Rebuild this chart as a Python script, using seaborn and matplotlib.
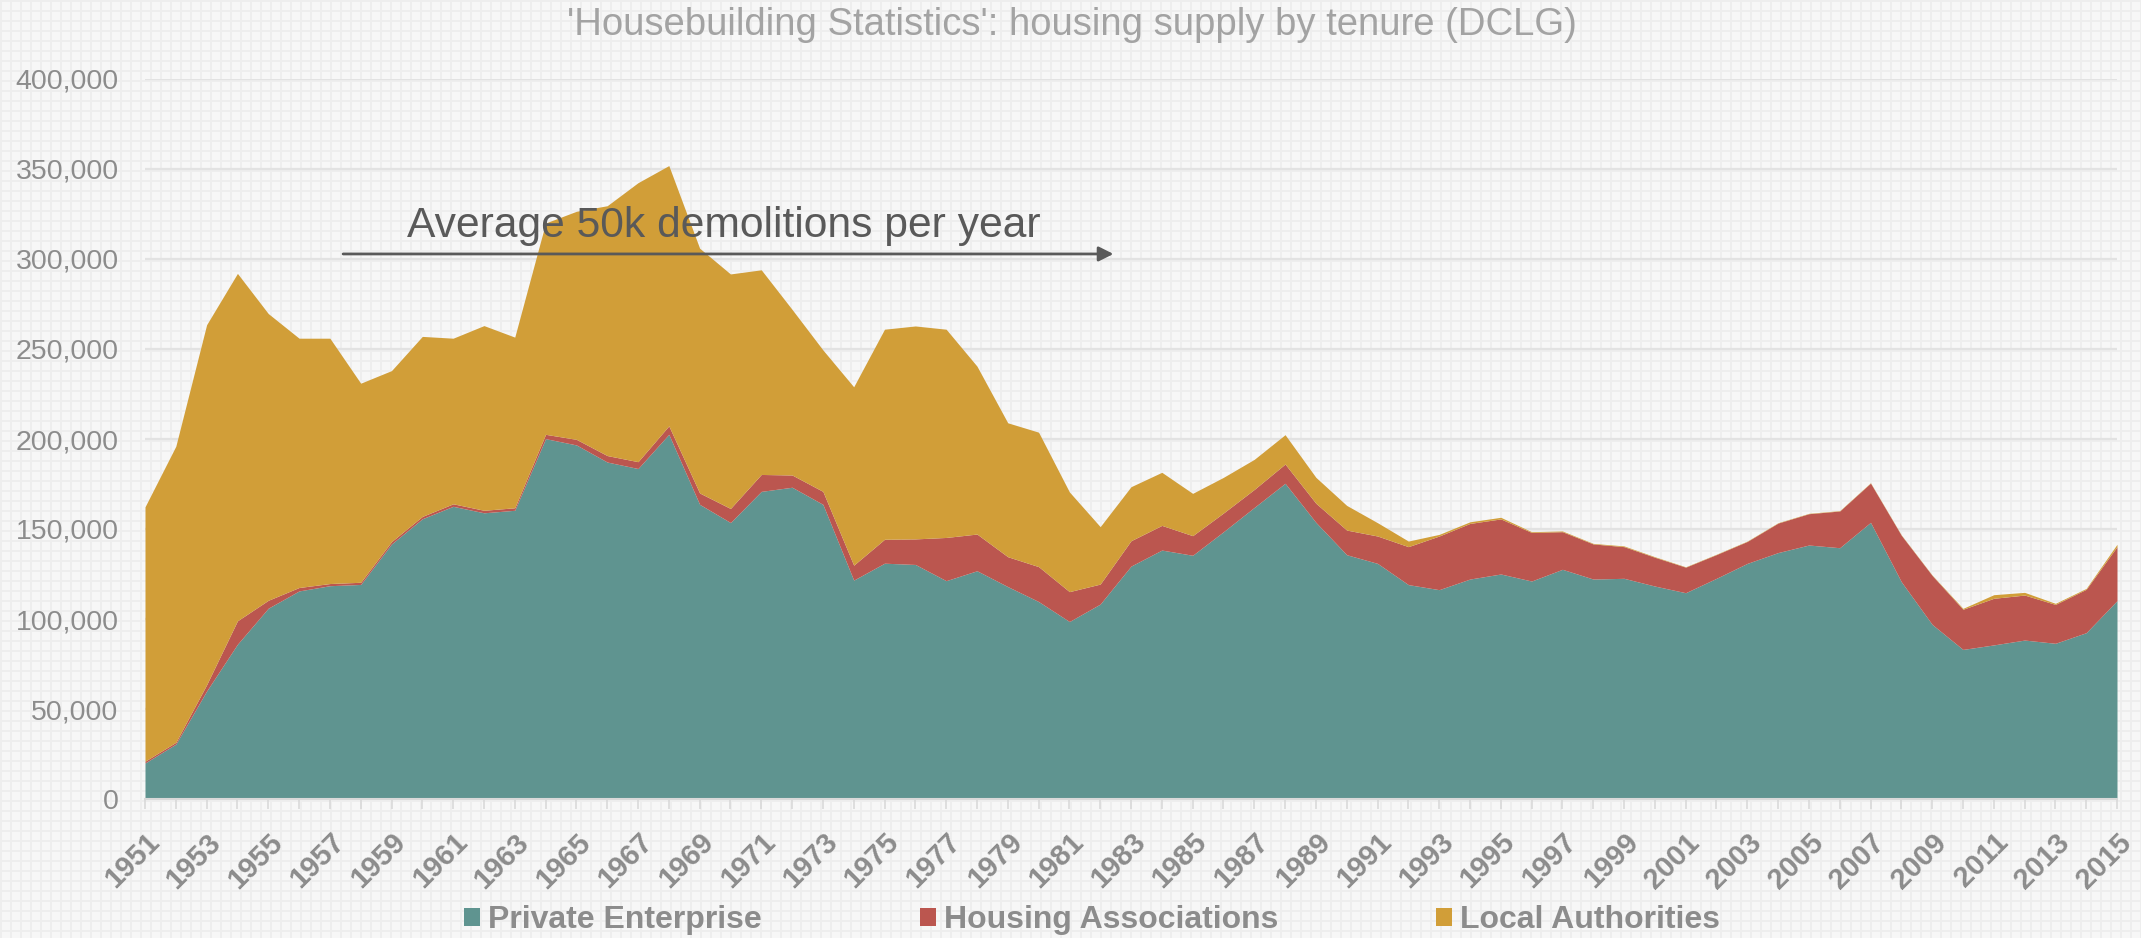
import numpy as np
import pandas as pd
import matplotlib
matplotlib.use("Agg")
import matplotlib.pyplot as plt
import seaborn as sns
from matplotlib.patches import Patch

# ---------------- data ----------------
years = list(range(1951, 2016))

private_enterprise = [
    20000, 30500, 60000, 86000, 106000, 115600, 118500, 119200, 141700, 155700,
    162600, 159000, 160400, 200200, 196700, 187200, 183600, 202600, 163700, 153600,
    170900, 173200, 163700, 121600, 131000, 130300, 121300, 126800, 118000, 109700,
    98600, 108300, 129400, 138300, 135400, 148500, 162000, 175400, 153700, 135700,
    130900, 119100, 116300, 122200, 125000, 121100, 127600, 122200, 122600, 118300,
    114600, 122600, 130900, 136900, 141100, 139600, 153700, 120700, 97000, 83100,
    85600, 88300, 86500, 92400, 110200,
]

housing_associations = [
    1000, 1000, 3500, 13000, 4400, 1900, 1200, 1200, 1300, 1300,
    1400, 1400, 1400, 2400, 3100, 3600, 3800, 4700, 6300, 7800,
    9400, 6800, 7200, 8300, 13300, 14200, 24000, 20400, 16600, 19400,
    16600, 11100, 14100, 13700, 10900, 10400, 10000, 10700, 10600, 13700,
    15200, 21100, 29800, 30900, 30600, 27000, 20900, 19500, 17600, 16000,
    14200, 13200, 12200, 16400, 17400, 20400, 21800, 25800, 27200, 22300,
    25900, 25000, 21600, 24100, 30000,
]

local_authorities = [
    141300, 164500, 200000, 193000, 159300, 138500, 136300, 110600, 95000, 100000,
    92000, 102600, 94800, 117400, 126700, 138800, 155000, 144600, 136000, 130300,
    113700, 92000, 78600, 99100, 116700, 118300, 115700, 93300, 74400, 74700,
    55400, 31900, 30000, 29500, 23500, 19800, 16700, 16300, 14400, 13700,
    7400, 3100, 900, 900, 900, 400, 400, 300, 400, 300,
    200, 200, 200, 200, 200, 200, 200, 200, 200, 500,
    2000, 1500, 600, 500, 1300,
]

series_names = ["Private Enterprise", "Housing Associations", "Local Authorities"]
series_colors = ["#5f9490", "#bb564f", "#d19e38"]

x_tick_labels = [str(y) if (y - 1951) % 2 == 0 else "" for y in years]
y_ticks = [0, 50000, 100000, 150000, 200000, 250000, 300000, 350000, 400000]

title_text = "'Housebuilding Statistics': housing supply by tenure (DCLG)"
note_text = "Average 50k demolitions per year"

df = pd.DataFrame({
    "Year": years,
    series_names[0]: private_enterprise,
    series_names[1]: housing_associations,
    series_names[2]: local_authorities,
})

# ---------------- style ----------------
sns.set_theme(style="white")
plt.rcParams["font.family"] = ["Liberation Sans", "DejaVu Sans"]

W, H = 2141, 938
fig = plt.figure(figsize=(W / 100, H / 100), dpi=100)
fig.patch.set_facecolor("#f7f7f7")

# fine checkered background
yy, xx = np.mgrid[0:H, 0:W]
mask = ((xx % 10) < 2) | ((yy % 10) < 2)
bg = np.empty((H, W, 3))
bg[:] = np.array([247, 247, 247]) / 255.0
bg[mask] = np.array([238, 238, 238]) / 255.0
fig.figimage(bg, xo=0, yo=0, zorder=-10)

ax = fig.add_axes([145 / W, 139 / H, (2117 - 145) / W, 720 / H])
ax.set_facecolor("none")

ax.stackplot(df["Year"], df[series_names[0]], df[series_names[1]], df[series_names[2]],
             colors=series_colors, linewidth=0, zorder=2)

ax.set_xlim(1951, 2015)
ax.set_ylim(0, 400000)

ax.set_axisbelow(True)
ax.yaxis.grid(True, color="#e2e2e2", linewidth=1.6)
ax.xaxis.grid(False)

for side in ["left", "right", "top"]:
    ax.spines[side].set_visible(False)
ax.spines["bottom"].set_color("#d9d9d9")
ax.spines["bottom"].set_linewidth(1.5)
ax.spines["bottom"].set_zorder(3)

ax.set_yticks(y_ticks)
ax.set_yticklabels([f"{v:,}" for v in y_ticks], fontsize=20.5, color="#8c8c8c")
ax.tick_params(axis="y", length=0, pad=19)

ax.set_xticks(years)
ax.set_xticklabels(x_tick_labels, rotation=45, ha="right", va="top",
                   rotation_mode="anchor", fontsize=21, fontweight="bold",
                   color="#8c8c8c")
ax.tick_params(axis="x", length=7, width=1.2, color="#d9d9d9", pad=14,
               bottom=True, direction="out")
ax.set_xlabel("")
ax.set_ylabel("")

# annotation arrow + text
ax.annotate("", xy=(1982.43, 302800), xytext=(1957.43, 302800),
            arrowprops=dict(arrowstyle="-|>", color="#595959", lw=2,
                            mutation_scale=22, shrinkA=0, shrinkB=0),
            zorder=5)
ax.text(1969.8, 312000, note_text, ha="center", va="baseline",
        fontsize=30.7, color="#595959", zorder=5)

# title
fig.text(1072 / W, 1 - 25 / H, title_text, ha="center", va="center",
         fontsize=27.5, color="#a3a3a3")

# legend
handles = [Patch(facecolor=c, edgecolor="none", label=n)
           for n, c in zip(series_names, series_colors)]
fig.legend(handles=handles, loc="center", bbox_to_anchor=(1092 / W, 1 - 920 / H),
           ncol=3, frameon=False, prop={"weight": "bold", "size": 23},
           labelcolor="#8c8c8c", handlelength=0.5, handleheight=0.5,
           handletextpad=0.25, columnspacing=4.94)

fig.savefig("out.png", dpi=100, facecolor=fig.get_facecolor())
